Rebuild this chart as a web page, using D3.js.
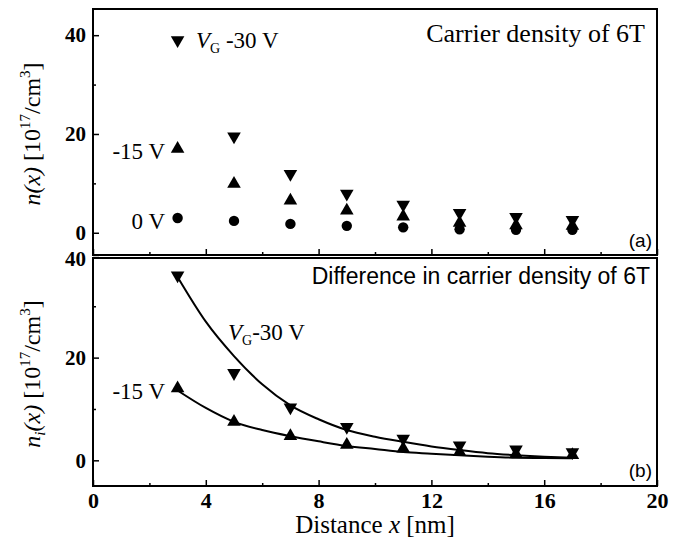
<!DOCTYPE html>
<html>
<head>
<meta charset="utf-8">
<script src="https://cdn.jsdelivr.net/npm/d3@7"></script>
<style>
body { margin: 0; background: #fff; }
text { fill: #000; }
</style>
</head>
<body>
<div id="chart"></div>
<script>
// distances (nm)
var xs = [3, 5, 7, 9, 11, 13, 15, 17];
// (a) carrier density n(x), 10^17/cm^3
var n30 = [39, 19.5, 11.9, 7.9, 5.7, 4.0, 3.2, 2.6];
var n15 = [17.0, 9.9, 6.5, 4.5, 3.3, 2.0, 1.5, 1.4];
var n0 = [3.0, 2.4, 1.8, 1.4, 1.1, 0.7, 0.6, 0.6];
// (b) difference ni(x)
var d30 = [36, 17.0, 10.3, 6.5, 4.2, 2.9, 2.1, 1.6];
var d15 = [14.0, 7.5, 4.7, 3.0, 2.3, 1.6, 1.2, 1.0];
// fitted curves
var fitX = [3, 4, 5, 6, 7, 8, 9, 10, 11, 12, 13, 14, 15, 16, 17];
var fit30 = [35.7, 27.0, 20.3, 14.8, 10.7, 8.0, 5.9, 4.6, 3.6, 2.7, 2.0, 1.4, 1.0, 0.7, 0.5];
var fit15 = [13.6, 10.2, 7.5, 5.9, 4.7, 3.7, 2.8, 2.2, 1.6, 1.3, 1.0, 0.7, 0.5, 0.45, 0.4];
var xTicks = [0, 4, 8, 12, 16, 20];
var yTicks = [0, 20, 40];

var W = 682, H = 550;
var svg = d3.select("#chart").append("svg").attr("width", W).attr("height", H);

var x = d3.scaleLinear().domain([0, 20]).range([93, 657]);
var ya = d3.scaleLinear().domain([-4.5, 45.3]).range([255, 9]);
var yb = d3.scaleLinear().domain([-5, 39.4]).range([486, 258]);

var serif = "'Liberation Serif', 'Times New Roman', serif";
var sans = "'Liberation Sans', Arial, sans-serif";

function frame(y) {
    svg.append("rect")
       .attr("x", x(0)).attr("y", y.range()[1])
       .attr("width", x(20) - x(0)).attr("height", y.range()[0] - y.range()[1])
       .attr("fill", "none").attr("stroke", "#000").attr("stroke-width", 2);
}

function leftAxis(y, lowerPanel) {
    var g = svg.append("g").attr("transform", "translate(" + x(0) + ",0)");
    g.call(d3.axisLeft(y).tickValues(yTicks).tickSize(-6).tickPadding(7).tickFormat(d3.format("d")));
    g.append("g").call(d3.axisLeft(y).tickValues([10, 30].filter(function(v) { return v < y.domain()[1]; })).tickSize(-3).tickFormat(""));
    g.selectAll(".domain").remove();
    g.selectAll("line").attr("stroke", "#000").attr("stroke-width", 1.5);
    g.selectAll("text").style("font-family", serif).style("font-size", "21px").style("font-weight", "bold").attr("fill", "#000");
    // the "40" of panel (b) sits on the panel junction, nudge it down a little
    if (lowerPanel) g.selectAll(".tick text").filter(function(d) { return d === 40; }).attr("dy", "0.5em");
}

function bottomAxis(y, labels) {
    var g = svg.append("g").attr("transform", "translate(0," + y.range()[0] + ")");
    g.call(d3.axisBottom(x).tickValues(xTicks).tickSize(-6).tickPadding(6)
        .tickFormat(labels ? d3.format("d") : ""));
    g.append("g").call(d3.axisBottom(x).tickValues([2, 6, 10, 14, 18]).tickSize(-3).tickFormat(""));
    g.selectAll(".domain").remove();
    g.selectAll("line").attr("stroke", "#000").attr("stroke-width", 1.5);
    g.selectAll("text").style("font-family", serif).style("font-size", "22px").style("font-weight", "bold").attr("fill", "#000");
}

frame(ya);
frame(yb);
leftAxis(ya, false);
leftAxis(yb, true);
bottomAxis(ya, false);
bottomAxis(yb, true);

var tri = d3.symbol().type(d3.symbolTriangle).size(80);
var circ = d3.symbol().type(d3.symbolCircle).size(85);

function points(vals, y, type) {
    svg.append("g").selectAll("path")
       .data(vals)
       .enter().append("path")
       .attr("d", type === "circle" ? circ : tri)
       .attr("transform", function(d, i) {
           return "translate(" + x(xs[i]) + "," + y(d) + ")" + (type === "down" ? " rotate(180)" : "");
       })
       .attr("fill", "#000");
}

// fitted lines (b)
var line = d3.line()
    .x(function(d, i) { return x(fitX[i]); })
    .y(function(d) { return yb(d); })
    .curve(d3.curveMonotoneX);
svg.append("path").attr("d", line(fit30)).attr("fill", "none").attr("stroke", "#000").attr("stroke-width", 2);
svg.append("path").attr("d", line(fit15)).attr("fill", "none").attr("stroke", "#000").attr("stroke-width", 2);

points(n0, ya, "circle");
points(n15, ya, "up");
points(n30, ya, "down");
points(d15, yb, "up");
points(d30, yb, "down");

function txt(s, px, py, font, size, anchor) {
    return svg.append("text").attr("x", px).attr("y", py)
        .attr("font-family", font).attr("font-size", size)
        .attr("text-anchor", anchor || "start").text(s);
}

// labels in (a)
var vg = svg.append("text").attr("x", 196).attr("y", 48).attr("font-family", serif).attr("font-size", 23);
vg.append("tspan").attr("font-style", "italic").text("V");
vg.append("tspan").attr("font-size", 14).attr("dy", 5).text("G");
vg.append("tspan").attr("dy", -5).text(" -30 V");
txt("Carrier density of 6T", 645, 42, serif, 26, "end");
txt("-15 V", 165, 159, serif, 23, "end");
txt("0 V", 165, 229, serif, 23, "end");
txt("(a)", 652, 247, sans, 19, "end");

// labels in (b)
var vg2 = svg.append("text").attr("x", 228).attr("y", 340).attr("font-family", serif).attr("font-size", 23);
vg2.append("tspan").attr("font-style", "italic").text("V");
vg2.append("tspan").attr("font-size", 14).attr("dy", 5).text("G");
vg2.append("tspan").attr("dy", -5).text("-30 V");
txt("Difference in carrier density of 6T", 650, 284, sans, 23, "end");
txt("-15 V", 165, 399, serif, 23, "end");
txt("(b)", 652, 477, sans, 19, "end");

// axis titles
var xt = svg.append("text").attr("x", 375).attr("y", 533).attr("text-anchor", "middle")
    .attr("font-family", serif).attr("font-size", 25);
xt.append("tspan").text("Distance ");
xt.append("tspan").attr("font-style", "italic").text("x");
xt.append("tspan").text(" [nm]");

function ylab(cx, cy, sub) {
    var t = svg.append("text").attr("transform", "translate(" + cx + "," + cy + ") rotate(-90)")
        .attr("text-anchor", "middle").attr("font-family", serif).attr("font-size", 24);
    t.append("tspan").attr("font-style", "italic").text("n");
    if (sub) t.append("tspan").attr("font-style", "italic").attr("font-size", 15).attr("dy", 5).text("i");
    t.append("tspan").attr("font-style", "italic").attr("dy", sub ? -5 : 0).text("(x)");
    t.append("tspan").text(" [10");
    t.append("tspan").attr("font-size", 15).attr("dy", -10).text("17");
    t.append("tspan").attr("dy", 10).text("/cm");
    t.append("tspan").attr("font-size", 15).attr("dy", -10).text("3");
    t.append("tspan").attr("dy", 10).text("]");
}
ylab(40, 134, false);
ylab(40, 374, true);
</script>
</body>
</html>
